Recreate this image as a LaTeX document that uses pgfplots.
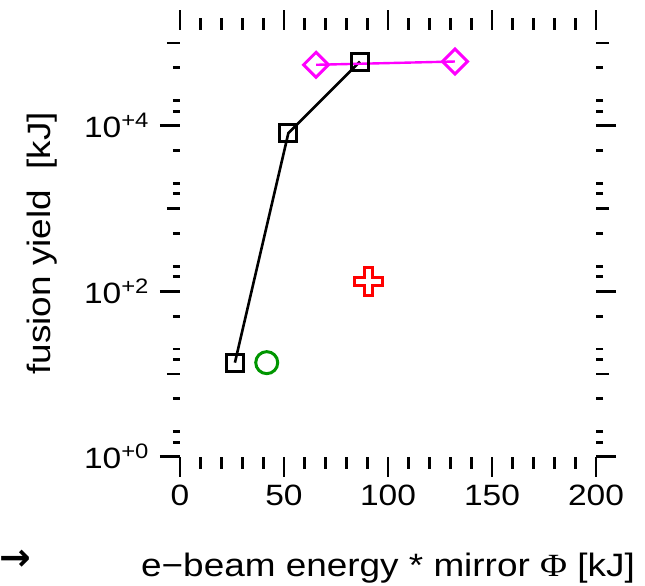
\documentclass[border=0pt]{standalone}
\usepackage{pgfplots}
\pgfplotsset{compat=1.18}
\usepackage{fontspec}
\setmainfont[FakeStretch=1.14]{Liberation Sans}
\newfontfamily\phifont[FakeStretch=1.14]{Liberation Serif}
\newfontfamily\arrowfont{DejaVu Sans Bold}
\definecolor{mag}{RGB}{255,0,255}
\definecolor{grn}{RGB}{0,150,0}
\pgfdeclareplotmark{plusbox}{%
  \pgfpathmoveto{\pgfqpoint{-4bp}{14bp}}%
  \pgfpathlineto{\pgfqpoint{4bp}{14bp}}%
  \pgfpathlineto{\pgfqpoint{4bp}{4bp}}%
  \pgfpathlineto{\pgfqpoint{14bp}{4bp}}%
  \pgfpathlineto{\pgfqpoint{14bp}{-4bp}}%
  \pgfpathlineto{\pgfqpoint{4bp}{-4bp}}%
  \pgfpathlineto{\pgfqpoint{4bp}{-14bp}}%
  \pgfpathlineto{\pgfqpoint{-4bp}{-14bp}}%
  \pgfpathlineto{\pgfqpoint{-4bp}{-4bp}}%
  \pgfpathlineto{\pgfqpoint{-14bp}{-4bp}}%
  \pgfpathlineto{\pgfqpoint{-14bp}{4bp}}%
  \pgfpathlineto{\pgfqpoint{-4bp}{4bp}}%
  \pgfpathclose
  \pgfusepathqfillstroke}
\newcommand\sx[1]{\raisebox{10bp}{\fontsize{21}{21}\selectfont #1}}
\begin{document}
\begin{tikzpicture}
\path[use as bounding box] (0,0) rectangle (645bp,586bp);
\begin{axis}[
  at={(180bp,129.3bp)}, anchor=south west,
  scale only axis, width=416bp, height=426.7bp,
  xmin=0, xmax=200, ymode=log, ymin=1, ymax=1.435e5,
  axis line style={draw=none},
  tick align=outside,
  major tick length=20bp, minor tick length=7bp,
  tick style={line width=2.8bp, black},
  xtick={0,50,100,150,200},
  extra x ticks={10,20,30,40,60,70,80,90,110,120,130,140,160,170,180,190},
  extra x tick labels={},
  extra x tick style={major tick length=12bp},
  ytick={1,100,10000},
  yticklabels={10\sx{+0},10\sx{+2},10\sx{+4}},
  minor ytick={1.5,2,5,15,20,50,150,200,500,1500,2000,5000,15000,20000,50000},
  extra y ticks={10,1000,100000},
  extra y tick labels={},
  extra y tick style={major tick length=13bp},
  /pgf/number format/assume math mode=true,
  tick label style={font=\fontsize{29.5}{29.5}\selectfont},
  xticklabel style={yshift=-5bp},
  yticklabel style={xshift=-8bp},
  label style={font=\fontsize{32.5}{32.5}\selectfont},
  xlabel={e−beam energy * mirror {\phifont Φ} [kJ]},
  xlabel style={at={(axis description cs:0.5,-0.262)}, anchor=center},
  ylabel={fusion yield\ \ [kJ]},
  ylabel style={at={(axis description cs:-0.3305,0.5)}, anchor=center},
  clip=false,
]
\addplot[black, line width=2.6bp, mark=square, mark size=8.5bp, mark options={line width=3bp, fill=none}]
  coordinates {(26.4,13.7) (52.1,8140) (86.5,59700)};
\addplot[mag, line width=2.4bp, mark=square, mark size=8.8bp, mark options={rotate=45, line width=3bp, fill=none}]
  coordinates {(65.4,54500) (132.2,59700)};
\addplot[grn, only marks, mark=o, mark size=11bp, mark options={line width=3bp}]
  coordinates {(41.7,13.7)};
\addplot[red, only marks, mark=plusbox, mark options={line width=3bp, fill=white}]
  coordinates {(90.5,131)};
\end{axis}
\node[font=\arrowfont\fontsize{38}{38}\selectfont, anchor=west, inner sep=0pt] at (-1bp,26bp) {→};
\end{tikzpicture}
\end{document}
